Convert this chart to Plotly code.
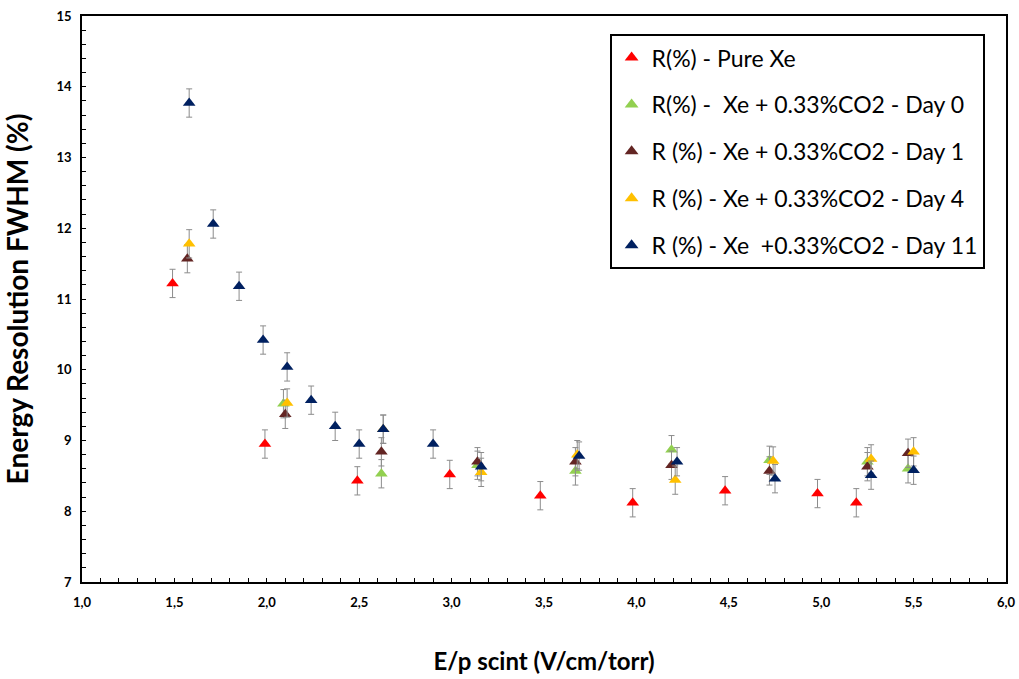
import plotly.graph_objects as go

# Energy resolution (FWHM, %) versus reduced scintillation field E/p
pure_x = [1.49, 1.99, 2.49, 2.99, 3.48, 3.98, 4.48, 4.98, 5.19]
pure_y = [11.22, 8.95, 8.43, 8.52, 8.22, 8.12, 8.29, 8.25, 8.12]

day0_x = [2.09, 2.62, 3.14, 3.67, 4.19, 4.72, 5.25, 5.47]
day0_y = [9.52, 8.53, 8.65, 8.57, 8.87, 8.72, 8.70, 8.60]

day1_x = [1.57, 2.10, 2.62, 3.14, 3.67, 4.19, 4.72, 5.25, 5.47]
day1_y = [11.57, 9.37, 8.84, 8.70, 8.70, 8.65, 8.57, 8.63, 8.82]

day4_x = [1.58, 2.11, 2.63, 3.16, 3.68, 4.21, 4.74, 5.27, 5.50]
day4_y = [11.78, 9.53, 9.16, 8.55, 8.80, 8.44, 8.71, 8.74, 8.84]

day11_x = [1.58, 1.71, 1.85, 1.98, 2.11, 2.24, 2.37, 2.50, 2.63, 2.90,
           3.16, 3.69, 4.22, 4.75, 5.27, 5.50]
day11_y = [13.77, 12.06, 11.18, 10.42, 10.04, 9.57, 9.20, 8.95, 9.16, 8.95,
           8.63, 8.78, 8.70, 8.46, 8.51, 8.58]

# uncertainty on each resolution value (%)
ERR = 0.2

series = [
    ("R(%) - Pure Xe", pure_x, pure_y, "#FF0000"),
    ("R(%) -  Xe + 0.33%CO2 - Day 0", day0_x, day0_y, "#92D050"),
    ("R (%) - Xe + 0.33%CO2 - Day 1", day1_x, day1_y, "#632523"),
    ("R (%) - Xe + 0.33%CO2 - Day 4", day4_x, day4_y, "#FFC000"),
    ("R (%) - Xe  +0.33%CO2 - Day 11", day11_x, day11_y, "#002060"),
]

fig = go.Figure()
for i, (name, xs, ys, color) in enumerate(series):
    fig.add_trace(go.Scatter(
        x=xs, y=ys, name=name, mode="markers",
        legendgroup=f"g{i}",
        marker=dict(symbol="triangle-up", size=11, color=color),
        error_y=dict(type="constant", value=ERR, color="#8c8c8c",
                     thickness=1, width=3),
    ))

tick_font = dict(family="Liberation Sans Narrow, Lato, sans-serif", size=13,
                 color="#000000", weight="bold")

fig.update_layout(
    width=1019, height=679,
    margin=dict(l=82, r=13, t=16, b=97),
    paper_bgcolor="white", plot_bgcolor="white",
    separators=", ",
    showlegend=True,
    legend=dict(
        x=0.571, y=0.968, xanchor="left", yanchor="top",
        bgcolor="white", bordercolor="#000000", borderwidth=2,
        font=dict(family="Lato, sans-serif", size=23, color="#000000"),
        tracegroupgap=14, itemsizing="constant",
    ),
    xaxis=dict(
        range=[1.0, 6.0], tick0=1.0, dtick=0.5, tickformat=".1f",
        automargin=False,
        showgrid=False, zeroline=False,
        showline=True, linecolor="#000000", linewidth=1.5, mirror=True,
        ticks="inside", ticklen=4, tickcolor="#000000",
        minor=dict(dtick=0.1, ticks="inside", ticklen=4, tickcolor="#000000"),
        tickfont=tick_font, ticklabelstandoff=8,
        title=dict(text="E/p scint (V/cm/torr)", standoff=44,
                   font=dict(family="Lato, sans-serif", size=24,
                             color="#000000", weight="bold")),
    ),
    yaxis=dict(
        range=[7, 15], tick0=7, dtick=1,
        automargin=False,
        showgrid=False, zeroline=False,
        showline=True, linecolor="#000000", linewidth=1.5, mirror=True,
        ticks="inside", ticklen=4, tickcolor="#000000",
        minor=dict(dtick=0.2, ticks="inside", ticklen=4, tickcolor="#000000"),
        tickfont=tick_font, ticklabelstandoff=6,
        title=dict(text="Energy Resolution FWHM (%)", standoff=30,
                   font=dict(family="Lato, sans-serif", size=28,
                             color="#000000", weight="bold")),
    ),
)

fig.write_html("out.html")
